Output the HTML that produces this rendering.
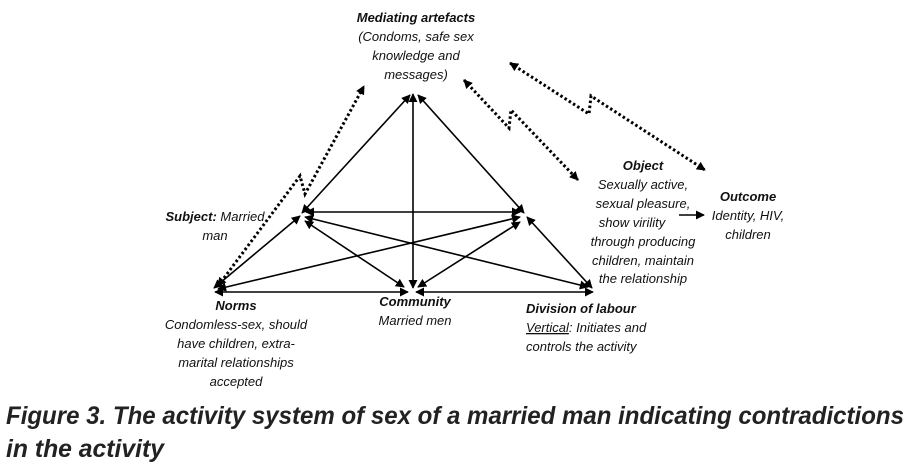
<!DOCTYPE html>
<html><head><meta charset="utf-8"><style>
html,body{margin:0;padding:0;background:#fff;}
svg{display:block;}
text{font-family:"Liberation Sans",Arial,sans-serif;font-size:13px;fill:#111;font-style:italic;}
.b{font-weight:bold;}
.t{font-size:25px;font-weight:bold;fill:#222;}
</style></head><body>
<svg width="910" height="466" viewBox="0 0 910 466" xmlns="http://www.w3.org/2000/svg">
<defs>
<marker id="a" viewBox="0 0 10 10" refX="9" refY="5" markerWidth="9" markerHeight="9" markerUnits="userSpaceOnUse" orient="auto-start-reverse"><path d="M0,0 L10,5 L0,10 z" fill="#000"/></marker>
</defs>
<g stroke="#000" stroke-width="1.6" fill="none" marker-start="url(#a)" marker-end="url(#a)">
<line x1="302" y1="213" x2="410" y2="95"/>
<line x1="524" y1="213" x2="418" y2="95"/>
<line x1="413" y1="94" x2="413" y2="288"/>
<line x1="306" y1="212" x2="520" y2="212"/>
<line x1="300" y1="216" x2="214" y2="288"/>
<line x1="527" y1="217" x2="592" y2="288"/>
<line x1="215" y1="292" x2="408" y2="292"/>
<line x1="416" y1="292" x2="593" y2="292"/>
<line x1="305" y1="217" x2="588" y2="287"/>
<line x1="520" y1="217" x2="218" y2="289"/>
<line x1="305" y1="221" x2="404" y2="287"/>
<line x1="520" y1="222" x2="418" y2="287"/>
</g>
<g stroke="#000" stroke-width="3" fill="none" stroke-dasharray="2.5,2.5" marker-start="url(#a)" marker-end="url(#a)">
<polyline points="218,286 300,176 305,194 364,86"/>
<polyline points="464,80 509,128 511,110 578,180"/>
<polyline points="510,63 589,114 591,96 705,170"/>
</g>
<line x1="679" y1="215" x2="704" y2="215" stroke="#000" stroke-width="1.6" marker-end="url(#a)"/>
<g text-anchor="middle">
<text x="416" y="22" class="b">Mediating artefacts</text>
<text x="416" y="41">(Condoms, safe sex</text>
<text x="416" y="60">knowledge and</text>
<text x="416" y="79">messages)</text>
<text x="643" y="170" class="b">Object</text>
<text x="643" y="189">Sexually active,</text>
<text x="643" y="208">sexual pleasure,</text>
<text x="632" y="227">show virility</text>
<text x="643" y="246">through producing</text>
<text x="643" y="265">children, maintain</text>
<text x="643" y="283">the relationship</text>
<text x="748" y="201" class="b">Outcome</text>
<text x="748" y="220">Identity, HIV,</text>
<text x="748" y="239">children</text>
<text x="215" y="221"><tspan class="b">Subject:</tspan> Married</text>
<text x="215" y="240">man</text>
<text x="236" y="310" class="b">Norms</text>
<text x="236" y="329">Condomless-sex, should</text>
<text x="236" y="348">have children, extra-</text>
<text x="236" y="367">marital relationships</text>
<text x="236" y="386">accepted</text>
<text x="415" y="306" class="b">Community</text>
<text x="415" y="325">Married men</text>
</g>
<text x="526" y="313" class="b">Division of labour</text>
<text x="526" y="332"><tspan text-decoration="underline">Vertical</tspan>: Initiates and</text>
<text x="526" y="351">controls the activity</text>
<text x="6" y="424" class="t" textLength="898" lengthAdjust="spacingAndGlyphs">Figure 3. The activity system of sex of a married man indicating contradictions</text>
<text x="6" y="457" class="t" textLength="158" lengthAdjust="spacingAndGlyphs">in the activity</text>
</svg>
</body></html>
